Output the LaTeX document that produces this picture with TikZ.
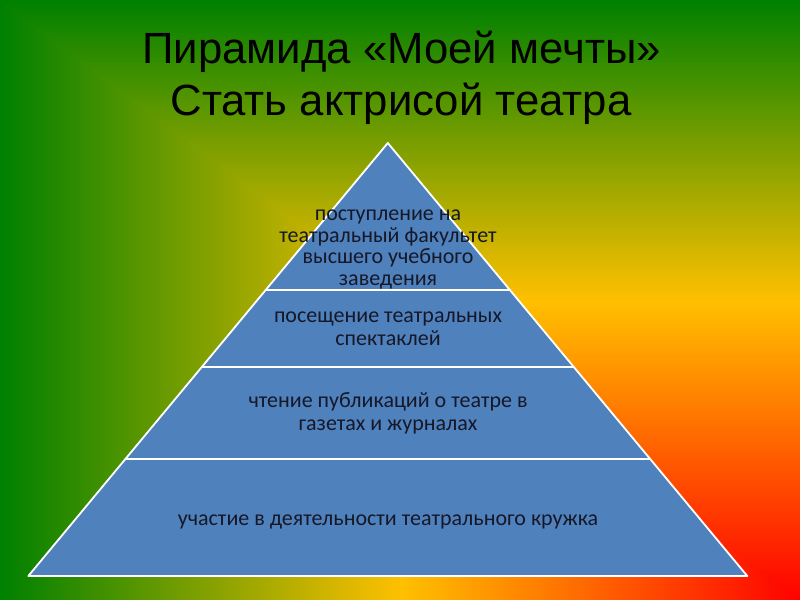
\documentclass[tikz,border=0pt]{standalone}
\usepackage{fontspec}
\setmainfont{Liberation Sans}
\newfontfamily\bandfont{Carlito}
\definecolor{bggreen}{RGB}{0,128,0}
\definecolor{bggold}{RGB}{255,192,0}
\definecolor{bgred}{RGB}{255,0,0}
\definecolor{bandblue}{RGB}{79,129,189}
\definecolor{bandtext}{RGB}{22,24,40}
\tikzset{
  band/.style={fill=bandblue, draw=white, line width=1.8pt, line join=round},
  titletext/.style={font=\fontsize{43.7}{52}\selectfont, text=black, anchor=base, inner sep=0pt},
  bandline/.style={font=\bandfont\fontsize{22}{22}\selectfont, text=bandtext, anchor=base, inner sep=0pt}
}
\begin{document}
\begin{tikzpicture}[x=1pt,y=-1pt]
\useasboundingbox (0,0) rectangle (800,600);
% background: rectangular gradient from the bottom-right corner
\foreach \i in {200,199,...,1}{
  \pgfmathsetmacro\xx{800-4*\i}
  \pgfmathsetmacro\yy{600-3*\i}
  \ifnum\i>100
    \pgfmathtruncatemacro\p{\i-100}
    \colorlet{bgc}{bggreen!\p!bggold}
  \else
    \pgfmathtruncatemacro\p{\i}
    \colorlet{bgc}{bggold!\p!bgred}
  \fi
  \fill[bgc] (\xx,\yy) rectangle (800,600);
}
% title
\node[titletext] (title1) at (401.5,63) {Пирамида «Моей мечты»};
\node[titletext] (title2) at (401,115) {Стать актрисой театра};
% pyramid bands (apex 387.8,143; base y 576; slope 0.8303)
\draw[band] (387.8,143) -- (509.9,290) -- (265.7,290) -- cycle;
\draw[band] (265.7,290) -- (509.9,290) -- (573.8,367) -- (201.8,367) -- cycle;
\draw[band] (201.8,367) -- (573.8,367) -- (650.2,459) -- (125.4,459) -- cycle;
\draw[band] (125.4,459) -- (650.2,459) -- (747.3,576) -- (28.3,576) -- cycle;
% band texts
\node[bandline] (b1a) at (388,220.5) {поступление на};
\node[bandline] (b1b) at (388,242.2) {театральный факультет};
\node[bandline] (b1c) at (388,263.9) {высшего учебного};
\node[bandline] (b1d) at (388,285.6) {заведения};
\node[bandline] (b2a) at (388,322.7) {посещение театральных};
\node[bandline] (b2b) at (388,345.5) {спектаклей};
\node[bandline] (b3a) at (388,407.5) {чтение публикаций о театре в};
\node[bandline] (b3b) at (388,430.3) {газетах и журналах};
\node[bandline] (b4a) at (388,525) {участие в деятельности театрального кружка};
\end{tikzpicture}
\end{document}
